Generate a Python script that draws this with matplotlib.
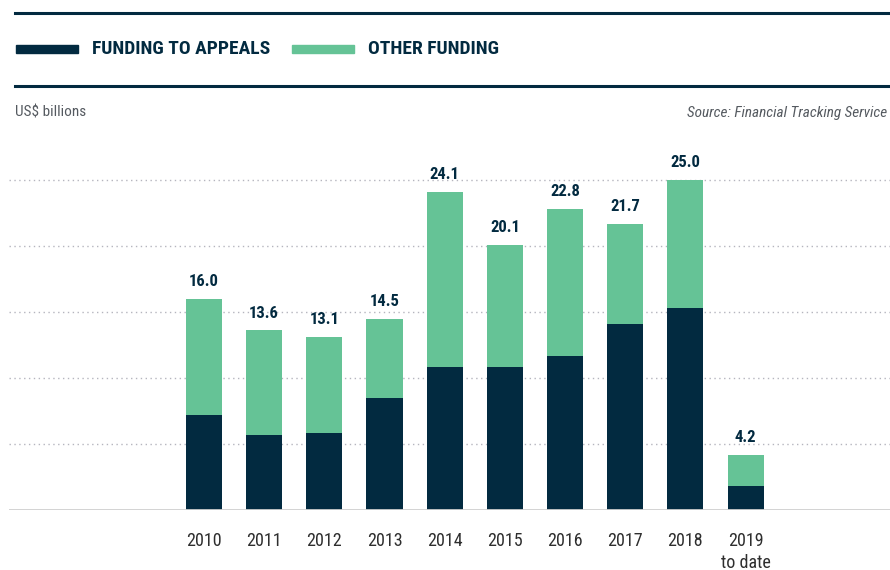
import matplotlib
matplotlib.use('Agg')
import matplotlib.pyplot as plt
from matplotlib import font_manager
import numpy as np

years = ['2010', '2011', '2012', '2013', '2014', '2015', '2016', '2017', '2018', '2019\nto date']
totals = [16.0, 13.6, 13.1, 14.5, 24.1, 20.1, 22.8, 21.7, 25.0, 4.2]
appeals = [7.2, 5.7, 5.8, 8.5, 10.8, 10.8, 11.7, 14.1, 15.3, 1.8]
other = [t - a for t, a in zip(totals, appeals)]
grid_vals = [5, 10, 15, 20, 25]

NAVY = '#022a40'
GREEN = '#65c396'
installed = {f.name for f in font_manager.fontManager.ttflist}
narrow = [n for n in ['Roboto Condensed', 'Liberation Sans Narrow'] if n in installed]
FONT = narrow + ['Roboto', 'DejaVu Sans']
plt.rcParams['font.family'] = FONT
condensed = bool(narrow)

W, H = 890, 570
fig = plt.figure(figsize=(W / 100, H / 100), dpi=100)

# axes placed in pixel terms: baseline at y=510, 25 -> y=180
y0, y25 = 510, 180
ymax = 27
top_px = y0 - (y0 - y25) * ymax / 25
ax = fig.add_axes([9 / W, (H - y0) / H, 1 - 9 / W, (y0 - top_px) / H])

x = np.arange(len(years))
ax.bar(x, appeals, width=0.6, color=NAVY, zorder=3)
ax.bar(x, other, bottom=appeals, width=0.6, color=GREEN, zorder=3)

lab_fs = 12 if condensed else 11
for xi, t in zip(x, totals):
    ax.annotate(f'{t:.1f}', (xi, t), xytext=(0, 7), textcoords='offset points',
                ha='center', va='bottom', fontsize=lab_fs, fontweight='bold', color=NAVY)

for g in grid_vals:
    ax.axhline(g, color='#b5b5be', linestyle=(0, (1, 2.5)), linewidth=1.0, zorder=1)
ax.axhline(0, color='#cfcfcf', linewidth=2, zorder=4)

ax.set_xlim(-3.24, 11.4)
ax.set_ylim(0, ymax)
for s in ax.spines.values():
    s.set_visible(False)
ax.set_yticks([])
ax.set_xticks(x)
ax.set_xticklabels(years, fontsize=13 if condensed else 12, color='#2e2e2e', linespacing=1.25)
ax.tick_params(axis='x', length=0, pad=16)

# header rules and legend
def px(xp, yp):
    return xp / W, 1 - yp / H

for yl in (13, 86):
    fig.add_artist(plt.Line2D([15 / W, 1], [1 - yl / H] * 2, color=NAVY, linewidth=2.2))

leg_fs = 14 if condensed else 12.5
fig.add_artist(plt.Rectangle(px(16, 53), 62 / W, 8 / H, color=NAVY))
fig.text(*px(92, 49), 'FUNDING TO APPEALS', fontsize=leg_fs, fontweight='bold',
         color=NAVY, va='center', ha='left')
fig.add_artist(plt.Rectangle(px(292, 53), 62 / W, 8 / H, color=GREEN))
fig.text(*px(368, 49), 'OTHER FUNDING', fontsize=leg_fs, fontweight='bold',
         color=NAVY, va='center', ha='left')

fig.text(*px(15, 113), 'US$ billions', fontsize=11, color='#555a60', va='center', ha='left')
fig.text(*px(887, 113), 'Source: Financial Tracking Service', fontsize=11 if condensed else 10.5,
         color='#555a60', style='italic', va='center', ha='right')

fig.savefig('out.png', dpi=100)
